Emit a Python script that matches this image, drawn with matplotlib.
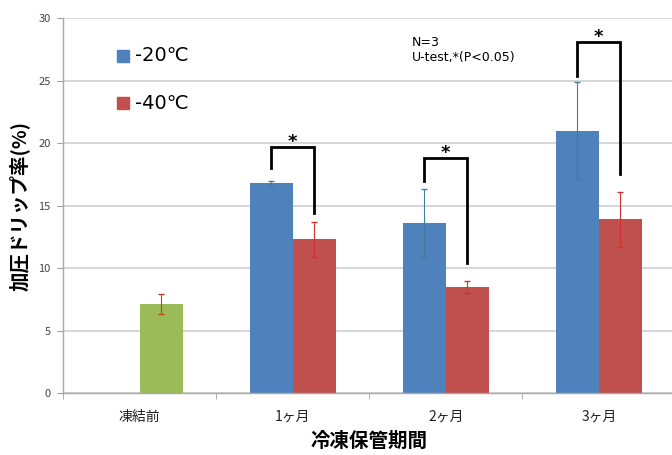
import numpy as np
import matplotlib
matplotlib.use("Agg")
import matplotlib.pyplot as plt

plt.rcParams['font.family'] = ['Noto Sans CJK JP', 'DejaVu Sans']

# ---------------------------------------------------------------------------
# data
# ---------------------------------------------------------------------------
categories = ['凍結前', '1ヶ月', '2ヶ月', '3ヶ月']
before_val = 7.1
before_err = 0.8
m20 = [16.8, 13.6, 21.0]     # -20C, 1..3 months
err20 = [0.2, 2.7, 3.9]
m40 = [12.3, 8.5, 13.9]      # -40C, 1..3 months
err40 = [1.4, 0.5, 2.2]
# significance brackets: left leg bottom, top, right leg bottom
sig_left = [18.0, 17.0, 25.4]
sig_top = [19.7, 18.8, 28.1]
sig_right = [14.4, 10.4, 17.5]

BLUE = '#4F81BD'
RED = '#C0504D'
GREEN = '#9BBB59'

fig = plt.figure(figsize=(6.72, 4.55), dpi=100)
ax = fig.add_axes([0.094, 0.136, 0.911, 0.824])

w = 0.28
x = np.arange(len(categories))
xm = x[1:]

ax.bar(x[0] + w / 2, before_val, w, color=GREEN, zorder=2)
ax.errorbar(x[0] + w / 2, before_val, yerr=before_err, fmt='none',
            ecolor='#B5452B', elinewidth=0.8, capsize=2, zorder=3)

ax.bar(xm - w / 2, m20, w, color=BLUE, zorder=2)
ax.bar(xm + w / 2, m40, w, color=RED, zorder=2)
ax.errorbar(xm - w / 2, m20, yerr=err20, fmt='none', ecolor='#3C7FA0',
            elinewidth=0.8, capsize=2, zorder=3)
ax.errorbar(xm + w / 2, m40, yerr=err40, fmt='none', ecolor='#D03030',
            elinewidth=0.8, capsize=2, zorder=3)

# significance brackets
for xi, lb, tp, rb in zip(xm, sig_left, sig_top, sig_right):
    ax.plot([xi - w / 2, xi - w / 2, xi + w / 2, xi + w / 2], [lb, tp, tp, rb],
            color='black', lw=2, solid_joinstyle='miter', zorder=4,
            clip_on=False)
    ax.text(xi, tp - 0.3, '*', ha='center', va='bottom', fontsize=13,
            fontweight='bold', family='DejaVu Sans', zorder=4)

ax.set_xlim(-0.5, 3.5)
ax.set_ylim(0, 30)
ax.set_yticks(np.arange(0, 31, 5))
ax.yaxis.grid(True, color='#CFCFCF', lw=1.2, zorder=0)
ax.set_axisbelow(True)

ax.set_xticks(x)
ax.set_xticklabels(categories, fontsize=10, color='#222222')
ax.set_xticks(np.arange(-0.5, 4, 1), minor=True)
ax.tick_params(axis='x', which='major', length=0, pad=12)
ax.tick_params(axis='x', which='minor', length=4, color='#A0A0A0')
ax.tick_params(axis='y', length=4, color='#A0A0A0', labelsize=8,
               labelcolor='#444444', pad=5)

for s in ['top', 'right']:
    ax.spines[s].set_visible(False)
for s in ['left', 'bottom']:
    ax.spines[s].set_color('#A8A8A8')
    ax.spines[s].set_linewidth(1.0)

ax.set_ylabel('加圧ドリップ率(%)', fontsize=14, fontweight='bold', labelpad=6)
ax.set_xlabel('冷凍保管期間', fontsize=14, fontweight='bold', labelpad=6)

# legend drawn like the original (square markers + big text)
for yv, col, lab in [(27.0, BLUE, '-20℃'), (23.2, RED, '-40℃')]:
    ax.plot([-0.11], [yv], marker='s', ms=9, color=col, ls='none')
    ax.text(-0.03, yv, lab, fontsize=14, va='center', ha='left',
            family=['DejaVu Sans'])

ax.text(1.78, 28.6, 'N=3\nU-test,*(P<0.05)', fontsize=9, va='top', ha='left',
        linespacing=1.2, family=['DejaVu Sans'])

fig.savefig('out.png', dpi=100)
